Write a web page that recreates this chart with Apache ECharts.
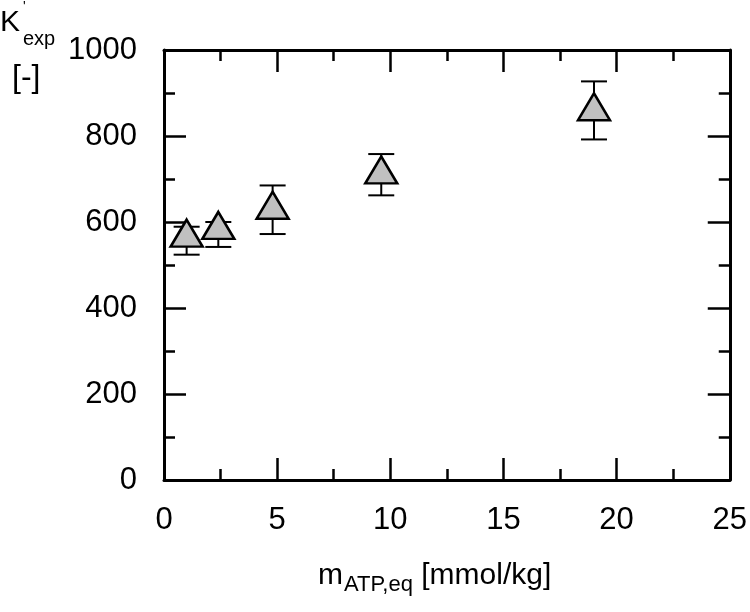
<!DOCTYPE html>
<html lang="en">
<head>
<meta charset="UTF-8">
<title>K'exp vs mATP,eq</title>
<script src="https://cdn.jsdelivr.net/npm/echarts@6/dist/echarts.min.js"></script>
<style>
html, body { margin: 0; padding: 0; background: #fff; }
</style>
</head>
<body>
<div id="main" style="width: 750px;height:612px;"></div>
<script type="text/javascript">
// data
const mAtp = [1.0, 2.4, 4.8, 9.6, 19.0];
const kExp = [574, 592, 639, 721, 868];
const errLow = [524, 542, 572, 662, 792];
const errHigh = [589, 600, 685, 758, 927];
const xTicks = [0, 5, 10, 15, 20, 25];
const yTicks = [0, 200, 400, 600, 800, 1000];

const font = 'Liberation Sans, Arial, sans-serif';

const axisCommon = {
  axisLine: { show: true, onZero: false, lineStyle: { color: '#000', width: 3 } },
  axisTick: { show: true, inside: true, length: 22, lineStyle: { color: '#000', width: 2.5 } },
  minorTick: { show: true, splitNumber: 2, length: 11, lineStyle: { color: '#000', width: 2.5 } },
  splitLine: { show: false },
  minorSplitLine: { show: false }
};

const errData = mAtp.map((x, i) => [x, errLow[i], errHigh[i]]);
const pts = mAtp.map((x, i) => [x, kExp[i]]);

let myChart = echarts.init(document.getElementById('main'));

let options = {
  animation: false,
  grid: { left: 164, right: 17, top: 50, bottom: 132, containLabel: false },
  xAxis: [
    Object.assign({
      type: 'value', position: 'bottom', min: xTicks[0], max: xTicks[xTicks.length - 1], interval: 5,
      axisLabel: { color: '#000', fontSize: 31, fontFamily: font, margin: 25 }
    }, axisCommon),
    Object.assign({
      type: 'value', position: 'top', min: 0, max: 25, interval: 5,
      axisLabel: { show: false }
    }, axisCommon)
  ],
  yAxis: [
    Object.assign({
      type: 'value', position: 'left', min: yTicks[0], max: yTicks[yTicks.length - 1], interval: 200,
      axisLabel: { color: '#000', fontSize: 31, fontFamily: font, margin: 27, formatter: v => String(v) }
    }, axisCommon),
    Object.assign({
      type: 'value', position: 'right', min: 0, max: 1000, interval: 200,
      axisLabel: { show: false }
    }, axisCommon)
  ],
  series: [
    {
      type: 'custom',
      z: 2,
      data: errData,
      renderItem: function (params, api) {
        const x = api.value(0);
        const lo = api.coord([x, api.value(1)]);
        const hi = api.coord([x, api.value(2)]);
        const hw = 13;
        const st = { stroke: '#000', lineWidth: 2 };
        return {
          type: 'group',
          children: [
            { type: 'line', shape: { x1: lo[0], y1: lo[1], x2: hi[0], y2: hi[1] }, style: st },
            { type: 'line', shape: { x1: lo[0] - hw, y1: lo[1], x2: lo[0] + hw, y2: lo[1] }, style: st },
            { type: 'line', shape: { x1: hi[0] - hw, y1: hi[1], x2: hi[0] + hw, y2: hi[1] }, style: st }
          ]
        };
      }
    },
    {
      type: 'scatter',
      z: 5,
      data: pts,
      symbol: 'triangle',
      symbolSize: [32, 27],
      itemStyle: { color: '#c0c0c0', borderColor: '#000', borderWidth: 2.5, opacity: 1 }
    }
  ],
  graphic: [
    { type: 'text', left: 0, top: 8, style: { text: 'K', font: '30px ' + font, fill: '#000' } },
    { type: 'text', left: 23, top: 0, style: { text: "'", font: '14px ' + font, fill: '#000' } },
    { type: 'text', left: 23, top: 29, style: { text: 'exp', font: '20px ' + font, fill: '#000' } },
    { type: 'text', left: 12, top: 62, style: { text: '[-]', font: '32px ' + font, fill: '#000' } },
    {
      type: 'text', left: 318, top: 561,
      style: {
        text: '{a|m}{s|ATP,eq}{a| [mmol/kg]}',
        rich: {
          a: { fontSize: 30, fontFamily: font, fill: '#000', color: '#000' },
          s: { fontSize: 22, fontFamily: font, fill: '#000', color: '#000', padding: [18, 0, 0, 1] }
        }
      }
    }
  ]
};

myChart.setOption(options);
</script>
</body>
</html>
